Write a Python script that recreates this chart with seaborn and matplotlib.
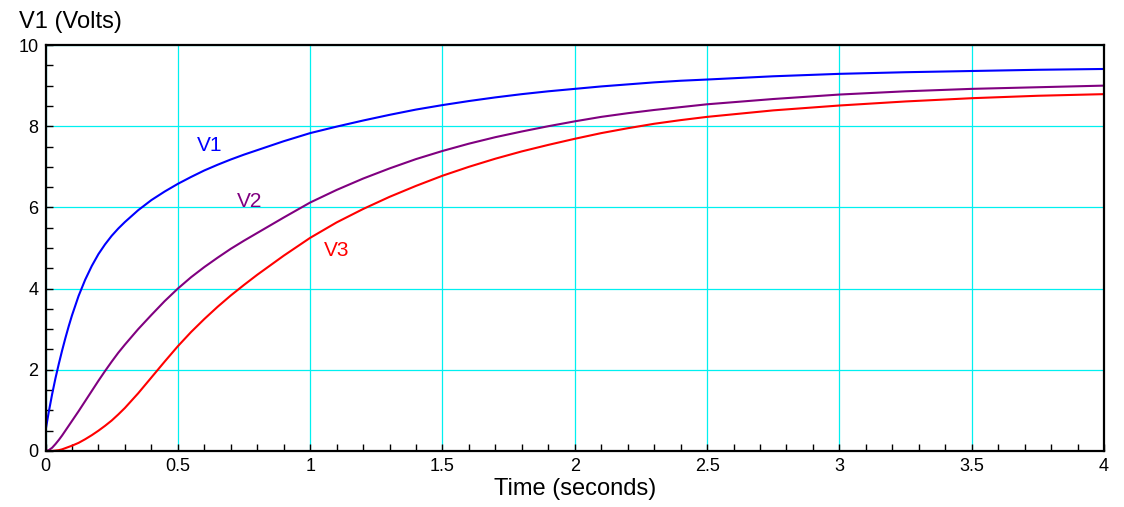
import pandas as pd
import matplotlib.pyplot as plt
import seaborn as sns
from matplotlib.ticker import MultipleLocator

# Значення
t = [0, 0.0125, 0.025, 0.0375, 0.05, 0.0625, 0.075, 0.0875, 0.1, 0.125, 0.15,
     0.175, 0.2, 0.225, 0.25, 0.275, 0.3, 0.35, 0.4, 0.45, 0.5, 0.55, 0.6, 0.65,
     0.7, 0.75, 0.8, 0.9, 1.0, 1.1, 1.2, 1.3, 1.4, 1.5, 1.6, 1.7, 1.8, 1.9, 2.0,
     2.1, 2.2, 2.3, 2.4, 2.5, 2.75, 3.0, 3.25, 3.5, 3.75, 4.0]
v1 = [0.5, 0.97, 1.4, 1.79, 2.14, 2.47, 2.78, 3.07, 3.34, 3.82, 4.22,
      4.56, 4.85, 5.09, 5.3, 5.48, 5.64, 5.93, 6.18, 6.39, 6.58, 6.75, 6.91, 7.05,
      7.18, 7.3, 7.41, 7.63, 7.83, 7.99, 8.14, 8.28, 8.41, 8.52, 8.62, 8.71, 8.79, 8.86, 8.92,
      8.98, 9.03, 9.08, 9.12, 9.15, 9.23, 9.29, 9.33, 9.36, 9.39, 9.41]
v2 = [0.0, 0.02, 0.08, 0.17, 0.27, 0.38, 0.5, 0.62, 0.74, 0.98, 1.23,
      1.48, 1.73, 1.97, 2.2, 2.42, 2.62, 3.0, 3.35, 3.69, 4.0, 4.28, 4.53, 4.76,
      4.98, 5.18, 5.37, 5.75, 6.12, 6.43, 6.71, 6.96, 7.19, 7.39, 7.57, 7.73, 7.87, 8.0, 8.12,
      8.23, 8.32, 8.4, 8.47, 8.54, 8.67, 8.78, 8.86, 8.92, 8.96, 9.0]
v3 = [0.0, 0.0, 0.0, 0.01, 0.02, 0.04, 0.07, 0.1, 0.13, 0.2, 0.29,
      0.39, 0.5, 0.62, 0.75, 0.9, 1.06, 1.42, 1.81, 2.2, 2.58, 2.93, 3.25, 3.55,
      3.83, 4.09, 4.34, 4.81, 5.25, 5.63, 5.96, 6.26, 6.53, 6.78, 7.0, 7.2, 7.38, 7.54, 7.69,
      7.83, 7.95, 8.06, 8.15, 8.23, 8.39, 8.51, 8.61, 8.69, 8.75, 8.79]

series = ["V1", "V2", "V3"]
colors = {"V1": "#0000ff", "V2": "#800080", "V3": "#ff0000"}
label_pos = {"V1": (0.622, 7.52), "V2": (0.772, 6.14), "V3": (1.1, 4.94)}
x_ticks = [0, 0.5, 1, 1.5, 2, 2.5, 3, 3.5, 4]
x_tick_labels = ["0", "0.5", "1", "1.5", "2", "2.5", "3", "3.5", "4"]

df = pd.DataFrame({"t": t, "V1": v1, "V2": v2, "V3": v3})
long_df = df.melt(id_vars="t", var_name="node", value_name="volts")

sns.set_theme(style="white")
plt.rcParams['font.family'] = ['Liberation Sans', 'DejaVu Sans']

fig = plt.figure(figsize=(11.24, 5.07), dpi=100)
ax = fig.add_axes([0.0405, 0.1105, 0.9417, 0.8007])

sns.lineplot(data=long_df, x="t", y="volts", hue="node", palette=colors,
             hue_order=series, linewidth=1.5, legend=False, ax=ax)

ax.set_xlim(0, 4)
ax.set_ylim(0, 10)
ax.xaxis.set_minor_locator(MultipleLocator(0.1))
ax.yaxis.set_major_locator(MultipleLocator(2))
ax.yaxis.set_minor_locator(MultipleLocator(0.5))
ax.set_xticks(x_ticks)
ax.set_xticklabels(x_tick_labels)

ax.grid(True, which="major", color="#00f0f0", linewidth=0.9)
ax.tick_params(which="both", direction="in", color="black", width=1,
               bottom=True, left=True, top=False, right=False)
ax.tick_params(which="major", length=5, labelsize=13, pad=5, labelcolor="black")
ax.tick_params(which="minor", length=5)
for sp in ax.spines.values():
    sp.set_color("black")
    sp.set_linewidth(1.6)

ax.set_xlabel("Time (seconds)", fontsize=17, color="black", labelpad=2)
ax.set_ylabel("")
fig.text(0.017, 0.956, "V1 (Volts)", fontsize=17, color="black",
         ha="left", va="center")

for name in series:
    x, y = label_pos[name]
    ax.text(x, y, name, color=colors[name], fontsize=15, ha="center", va="center")

fig.savefig("out.png", dpi=100)
